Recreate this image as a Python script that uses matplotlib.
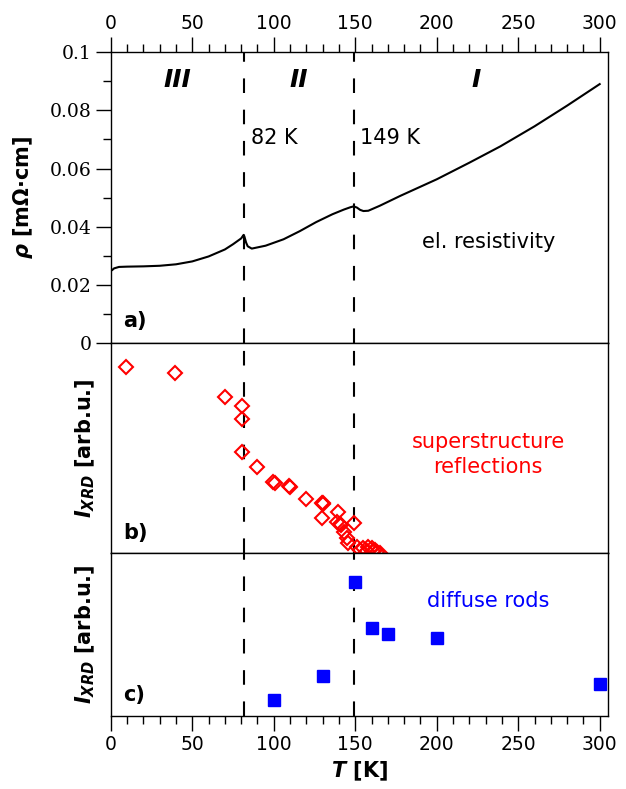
import matplotlib
matplotlib.use("Agg")
import matplotlib.pyplot as plt
from matplotlib.ticker import MultipleLocator, FixedLocator

# el. resistivity, panel a)
T_rho = [1, 2, 5, 10, 20, 30, 40, 50, 60, 70, 75, 80, 81.5, 82, 83, 84, 86.5,
         95, 106, 116, 126, 136, 143, 147, 149, 151, 153, 155, 158, 165,
         177.6, 200, 220, 239, 260, 280, 300]
rho = [0.0252, 0.0257, 0.0262, 0.0263, 0.0264, 0.0266, 0.0271, 0.0281, 0.0298,
       0.0322, 0.0340, 0.0360, 0.0372, 0.0366, 0.0346, 0.0333, 0.0325,
       0.0335, 0.0357, 0.0385, 0.0416, 0.0443, 0.0459, 0.0467, 0.0470, 0.0466,
       0.0458, 0.0454, 0.0455, 0.0472,
       0.0506, 0.0563, 0.0620, 0.0676, 0.0745, 0.0816, 0.0890]

# superstructure reflections, panel b)
T_sup = [9.6, 39.5, 70, 80.3, 80.3, 80.3, 90, 99.8, 100.5, 109.6, 110.2, 120,
         129.5, 130.2, 130, 129.5, 139.7, 139, 140.5, 141.5, 142.8, 144.8,
         145.8, 149.4, 151, 153, 155, 157, 158, 160, 161, 162.3, 163.3, 165]
I_sup = [0.887, 0.856, 0.744, 0.701, 0.637, 0.482, 0.411, 0.340, 0.336, 0.319,
         0.315, 0.257, 0.240, 0.232, 0.237, 0.168, 0.194, 0.149, 0.140, 0.133,
         0.101, 0.070, 0.046, 0.141, 0.030, 0.014, 0.022, 0.010, 0.030, 0.022,
         0.008, 0.014, 0.006, 0.0]

# diffuse rods, panel c)
T_rod = [100, 130, 150, 160, 170, 200, 300]
I_rod = [0.098, 0.245, 0.824, 0.542, 0.503, 0.48, 0.196]

T_trans = [82, 149]

plt.rcParams['mathtext.fontset'] = 'custom'
plt.rcParams['mathtext.it'] = 'DejaVu Sans:italic:bold'
plt.rcParams['mathtext.rm'] = 'DejaVu Sans:bold'

fig = plt.figure(figsize=(6.26, 7.89), dpi=100)
L, R = 0.177, 0.971
ax1 = fig.add_axes([L, 0.565, R - L, 0.934 - 0.565])
ax2 = fig.add_axes([L, 0.299, R - L, 0.565 - 0.299])
ax3 = fig.add_axes([L, 0.0925, R - L, 0.299 - 0.0925])

for ax in (ax1, ax2, ax3):
    ax.set_xlim(0, 305)
    for t in T_trans:
        ax.axvline(t, color='black', lw=1.5, dashes=(7, 8))
    for s in ax.spines.values():
        s.set_linewidth(1.0)

# a)
ax1.plot(T_rho, rho, color='black', lw=1.5)
ax1.set_ylim(0, 0.1)
ax1.xaxis.tick_top()
ax1.xaxis.set_major_locator(MultipleLocator(50))
ax1.xaxis.set_minor_locator(MultipleLocator(10))
ax1.yaxis.set_major_locator(FixedLocator([0, 0.02, 0.04, 0.06, 0.08, 0.1]))
ax1.yaxis.set_minor_locator(MultipleLocator(0.01))
ax1.set_yticklabels(['0', '0.02', '0.04', '0.06', '0.08', '0.1'],
                    family='DejaVu Serif', fontsize=13.5)
ax1.tick_params(axis='x', which='both', top=True, bottom=False,
                labeltop=True, labelbottom=False, labelsize=13.5)
ax1.tick_params(which='major', length=10.5, width=1)
ax1.tick_params(which='minor', length=6, width=1)
ax1.set_ylabel(r'$\mathit{ρ}$ [mΩ·cm]', fontsize=15, fontweight='bold')
ax1.yaxis.set_label_coords(-0.153, 0.5)

ax1.text(41, 0.0905, 'III', fontsize=18, fontweight='bold', style='italic',
         ha='center', va='center')
ax1.text(115.5, 0.0905, 'II', fontsize=18, fontweight='bold', style='italic',
         ha='center', va='center')
ax1.text(224, 0.0905, 'I', fontsize=18, fontweight='bold', style='italic',
         ha='center', va='center')
ax1.text(86, 0.0705, '82 K', fontsize=15, va='center')
ax1.text(153, 0.0705, '149 K', fontsize=15, va='center')
ax1.text(232, 0.0347, 'el. resistivity', fontsize=15, ha='center', va='center')
ax1.text(0.025, 0.075, 'a)', transform=ax1.transAxes, fontsize=15,
         fontweight='bold', va='center')

# b)
ax2.plot(T_sup, I_sup, linestyle='none', marker='D', markersize=7,
         markerfacecolor='none', markeredgecolor='#ff0000', markeredgewidth=1.5)
ax2.set_ylim(0, 1)
ax2.set_xticks([])
ax2.set_yticks([])
ax2.set_ylabel(r'$\mathit{I}_{\mathit{XRD}}$ [arb.u.]', fontsize=15, fontweight='bold')
ax2.yaxis.set_label_coords(-0.028, 0.5)
ax2.text(0.759, 0.471, 'superstructure\nreflections', transform=ax2.transAxes,
         color='#ff0000', fontsize=15, ha='center', va='center', linespacing=1.3)
ax2.text(0.025, 0.095, 'b)', transform=ax2.transAxes, fontsize=15,
         fontweight='bold', va='center')

# c)
ax3.plot(T_rod, I_rod, linestyle='none', marker='s', markersize=9,
         color='#0000ff')
ax3.set_ylim(0, 1)
ax3.set_yticks([])
ax3.xaxis.set_major_locator(MultipleLocator(50))
ax3.xaxis.set_minor_locator(MultipleLocator(10))
ax3.tick_params(axis='x', which='major', length=10.5, width=1, labelsize=13.5)
ax3.tick_params(axis='x', which='minor', length=6, width=1)
ax3.set_ylabel(r'$\mathit{I}_{\mathit{XRD}}$ [arb.u.]', fontsize=15, fontweight='bold')
ax3.yaxis.set_label_coords(-0.028, 0.5)
ax3.set_xlabel(r'$\mathit{T}$ [K]', fontsize=15, fontweight='bold')
ax3.text(0.76, 0.706, 'diffuse rods', transform=ax3.transAxes, color='#0000ff',
         fontsize=15, ha='center', va='center')
ax3.text(0.025, 0.129, 'c)', transform=ax3.transAxes, fontsize=15,
         fontweight='bold', va='center')

fig.savefig('out.png', dpi=100)
